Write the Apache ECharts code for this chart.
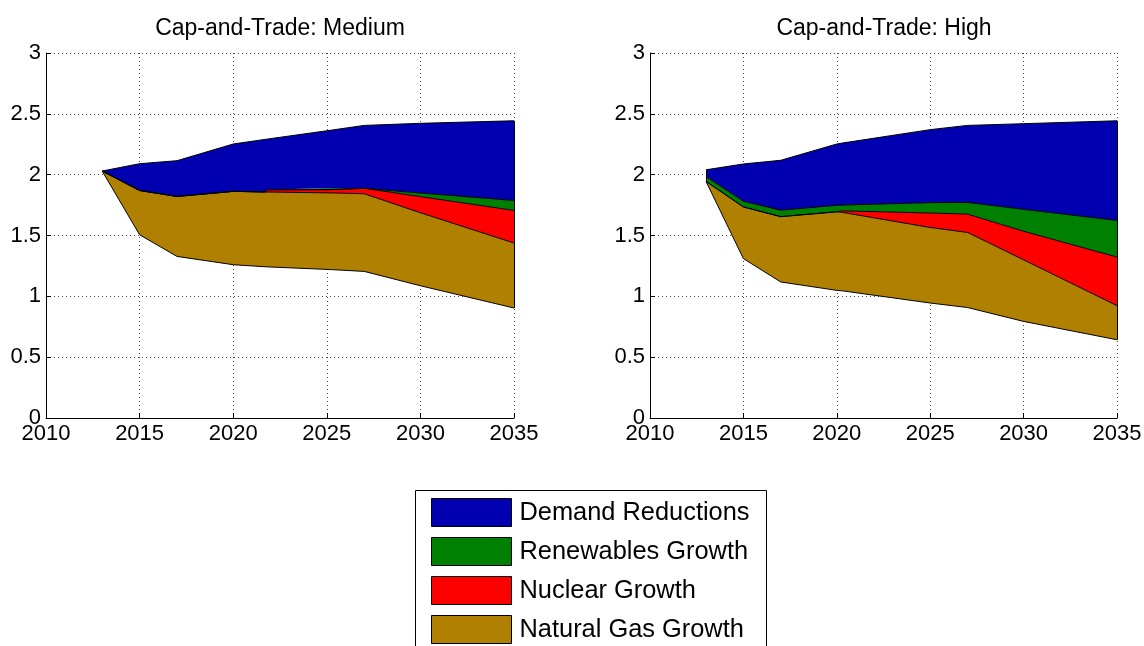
<!DOCTYPE html>
<html>
<head>
<meta charset="utf-8">
<title>Cap-and-Trade scenarios</title>
<script src="https://cdn.jsdelivr.net/npm/echarts@6/dist/echarts.min.js"></script>
<style>
  html, body { margin: 0; padding: 0; background: #ffffff; }
  #chart { width: 1144px; height: 646px; }
</style>
</head>
<body>
<div id="chart"></div>
<script>
// Axis ticks and titles
const xTicks = [2010, 2015, 2020, 2025, 2030, 2035];
const yTicks = [0, 0.5, 1, 1.5, 2, 2.5, 3];
const panelTitles = ['Cap-and-Trade: Medium', 'Cap-and-Trade: High'];
const legendNames = ['Demand Reductions', 'Renewables Growth', 'Nuclear Growth', 'Natural Gas Growth'];

// Medium cap: remaining baseline, then the growth wedges stacked on top of it
const medYears   = [2013, 2015, 2017, 2020, 2021.7, 2021.75, 2025.2, 2025.25, 2027, 2030, 2035];
const medBase    = [2.03, 1.506, 1.328, 1.26, 1.243, 1.243, 1.22, 1.22, 1.205, 1.087, 0.904];
const medGas     = [0, 0.364, 0.493, 0.603, 0.615, 0.612, 0.63, 0.63, 0.638, 0.60, 0.534];
const medNuclear = [0, 0, 0, 0, 0, 0.021, 0.027, 0.04, 0.045, 0.133, 0.268];
const medRenew   = [0, 0, 0, 0, 0, 0, 0, 0, 0, 0.029, 0.082];
const medDemand  = [0, 0.22, 0.294, 0.389, 0.432, 0.414, 0.488, 0.476, 0.517, 0.573, 0.655];

// High cap
const highYears   = [2013, 2015, 2017, 2020, 2020.3, 2025, 2027, 2030, 2035];
const highBase    = [1.944, 1.31, 1.118, 1.049, 1.045, 0.945, 0.908, 0.794, 0.643];
const highGas     = [0, 0.425, 0.537, 0.646, 0.645, 0.621, 0.617, 0.506, 0.28];
const highNuclear = [0, 0, 0, 0, 0.013, 0.119, 0.151, 0.235, 0.40];
const highRenew   = [0.041, 0.047, 0.053, 0.053, 0.047, 0.085, 0.096, 0.18, 0.301];
const highDemand  = [0.055, 0.306, 0.41, 0.504, 0.51, 0.60, 0.633, 0.704, 0.819];

const fills = {
  'Demand Reductions': '#0000b0',
  'Renewables Growth': '#008000',
  'Nuclear Growth': '#ff0000',
  'Natural Gas Growth': '#b08000'
};

const FONT = '"Liberation Sans", Arial, Helvetica, sans-serif';

// Rows are [value, year]; the value column comes first so the stack
// accumulates on the vertical axis while x stays the plain year.
function rows(xs, ys) {
  return xs.map((x, i) => [ys[i], x]);
}

function panelSeries(idx, years, base, gas, nuclear, renew, demand) {
  const common = {
    type: 'line',
    xAxisIndex: idx,
    yAxisIndex: idx,
    stack: 'stack' + idx,
    encode: { x: 1, y: 0 },
    symbol: 'none',
    smooth: false,
    silent: true,
    lineStyle: { color: '#000', width: 1 }
  };
  const layers = [
    ['Natural Gas Growth', gas],
    ['Nuclear Growth', nuclear],
    ['Renewables Growth', renew],
    ['Demand Reductions', demand]
  ];
  // Closing vertical outlines at the first and last year
  const last = years.length - 1;
  const topAt = i => base[i] + gas[i] + nuclear[i] + renew[i] + demand[i];
  const out = [Object.assign({}, common, {
    name: 'baseline' + idx,
    data: rows(years, base)
  })];
  layers.forEach(([name, vals], k) => {
    const s = Object.assign({}, common, {
      name: name,
      data: rows(years, vals),
      itemStyle: { color: fills[name] },
      areaStyle: { color: fills[name], opacity: 1 }
    });
    if (k === layers.length - 1) {
      s.markLine = {
        silent: true,
        symbol: 'none',
        label: { show: false },
        lineStyle: { color: '#000', width: 1, type: 'solid' },
        data: [
          [{ coord: [years[0], base[0]] }, { coord: [years[0], topAt(0)] }],
          [{ coord: [years[last], base[last]] }, { coord: [years[last], topAt(last)] }]
        ]
      };
    }
    out.push(s);
  });
  return out;
}

function xAxisFor(idx) {
  return {
    type: 'value', gridIndex: idx,
    min: xTicks[0], max: xTicks[xTicks.length - 1], interval: xTicks[1] - xTicks[0],
    axisLine: { show: true, onZero: false, lineStyle: { color: '#000', width: 1 } },
    axisTick: { show: true, inside: true, length: 5, lineStyle: { color: '#000' } },
    axisLabel: { color: '#000', fontSize: 22, fontFamily: FONT, margin: 5,
                 formatter: v => String(v) },
    splitLine: { show: true, lineStyle: { color: '#444', width: 1, type: [1, 3] } }
  };
}

function yAxisFor(idx) {
  return {
    type: 'value', gridIndex: idx,
    min: yTicks[0], max: yTicks[yTicks.length - 1], interval: yTicks[1] - yTicks[0],
    axisLine: { show: true, lineStyle: { color: '#000', width: 1 } },
    axisTick: { show: true, inside: true, length: 5, lineStyle: { color: '#000' } },
    axisLabel: { color: '#000', fontSize: 22, fontFamily: FONT, margin: 5,
                 formatter: v => String(v) },
    splitLine: { show: true, lineStyle: { color: '#444', width: 1, type: [1, 3] } }
  };
}

const chart = echarts.init(document.getElementById('chart'), null, { renderer: 'canvas' });

chart.setOption({
  animation: false,
  backgroundColor: '#ffffff',
  title: [
    { text: panelTitles[0], left: 275, top: 12, textAlign: 'center',
      textStyle: { fontSize: 23, fontWeight: 'normal', color: '#000', fontFamily: FONT } },
    { text: panelTitles[1], left: 879, top: 12, textAlign: 'center',
      textStyle: { fontSize: 23, fontWeight: 'normal', color: '#000', fontFamily: FONT } }
  ],
  grid: [
    { left: 46, top: 53, width: 468, height: 365, containLabel: false, outerBoundsMode: 'none' },
    { left: 650, top: 53, width: 467, height: 365, containLabel: false, outerBoundsMode: 'none' }
  ],
  xAxis: [xAxisFor(0), xAxisFor(1)],
  yAxis: [yAxisFor(0), yAxisFor(1)],
  // Legend frame runs past the bottom edge of the canvas
  graphic: [{
    type: 'rect', left: 415, top: 490, z: 0, silent: true,
    shape: { width: 351, height: 200 },
    style: { fill: '#fff', stroke: '#000', lineWidth: 1 }
  }],
  legend: {
    data: legendNames,
    orient: 'vertical',
    left: 415, top: 490,
    icon: 'rect',
    itemWidth: 80, itemHeight: 28, itemGap: 10, itemTextGap: 8,
    padding: [8, 10, 0, 16],
    selectedMode: false,
    z: 10,
    itemStyle: { borderColor: '#000', borderWidth: 1 },
    textStyle: { fontSize: 25.4, color: '#000', fontFamily: FONT, padding: [3, 0, 0, 3] }
  },
  series: [].concat(
    panelSeries(0, medYears, medBase, medGas, medNuclear, medRenew, medDemand),
    panelSeries(1, highYears, highBase, highGas, highNuclear, highRenew, highDemand)
  )
});
</script>
</body>
</html>
